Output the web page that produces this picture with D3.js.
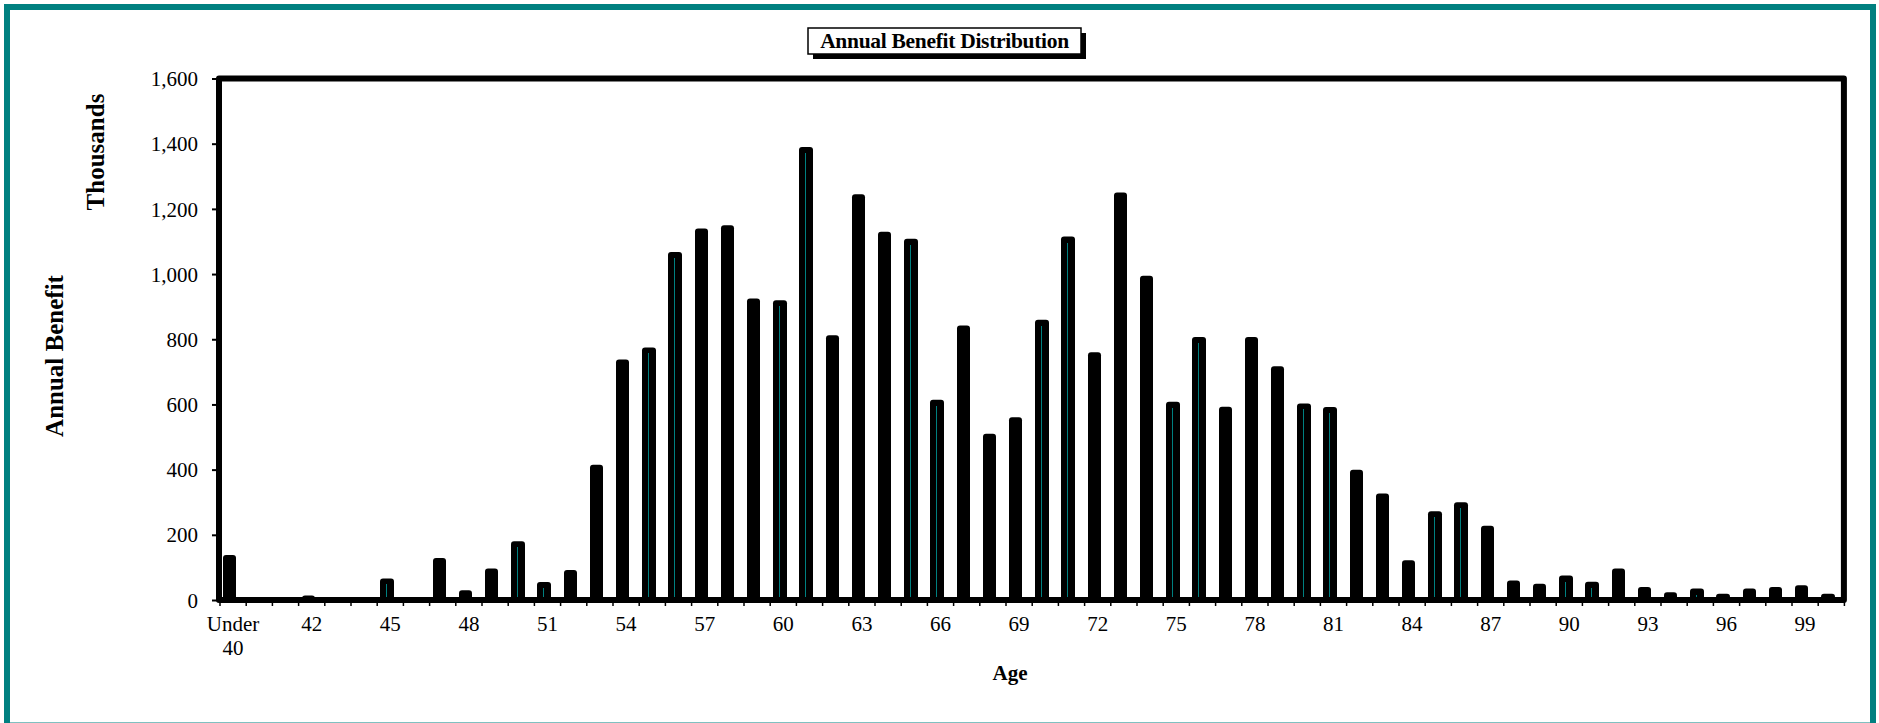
<!DOCTYPE html>
<html>
<head>
<meta charset="utf-8">
<script src="https://cdn.jsdelivr.net/npm/d3@7"></script>
<style>
  html, body { margin: 0; padding: 0; background: #ffffff; }
  svg { display: block; }
  text { font-family: "Liberation Serif", "Times New Roman", serif; fill: #000; }
</style>
</head>
<body>
<svg id="chart" width="1879" height="723"></svg>
<script>
// ---- data ----
const categories = ["Under 40","40","41","42","43","44","45","46","47","48","49","50","51","52","53","54",
  "55","56","57","58","59","60","61","62","63","64","65","66","67","68","69","70","71","72","73","74",
  "75","76","77","78","79","80","81","82","83","84","85","86","87","88","89","90","91","92","93","94",
  "95","96","97","98","99","100"];
const benefits = [138,0,0,14,0,0,66,0,129,30,97,180,55,92,415,738,
  775,1068,1140,1150,925,920,1390,812,1245,1130,1108,614,842,510,561,860,1115,760,1250,995,
  608,807,593,807,717,603,592,400,327,122,272,300,228,60,50,75,56,97,40,24,
  35,19,35,40,45,19];
const tickLabels = ["Under 40","42","45","48","51","54","57","60","63","66","69","72","75","78","81","84","87","90","93","96","99"];
const yTicks = [0,200,400,600,800,1000,1200,1400,1600];
const chartTitle = "Annual Benefit Distribution";
const xTitle = "Age";
const yTitleTop = "Thousands";
const yTitleBottom = "Annual Benefit";

// ---- layout ----
const svg = d3.select("#chart");
const plot = { left: 220, right: 1844.4, top: 78.5, bottom: 600 };
const teal = "#008080";

// outer teal frame
svg.append("rect")
  .attr("x", 7).attr("y", 7).attr("width", 1866).attr("height", 718.5)
  .attr("fill", "#fff").attr("stroke", teal).attr("stroke-width", 6);

const x = d3.scaleBand().domain(categories).range([plot.left, plot.right]).paddingInner(0).paddingOuter(0);
const y = d3.scaleLinear().domain([0, 1600]).range([plot.bottom, plot.top]);
const step = x.step();

// bars
const barW = 13.4;
const data = categories.map((c, i) => ({ c, v: benefits[i] }));
const g = svg.append("g");
data.filter(d => d.v > 0).forEach(d => {
  const cx = x(d.c) + step / 2 - 3.5;
  const x0 = Math.round(cx - barW / 2);
  const x1 = Math.round(cx + barW / 2);
  const w = x1 - x0;
  g.append("rect")
    .attr("x", x0).attr("y", y(d.v)).attr("width", w).attr("height", y(0) - y(d.v) + 2)
    .attr("rx", 3).attr("ry", 3).attr("fill", "#000");
  const inner = w - 13;
  if (inner > 0 && y(0) - y(d.v) > 8) {
    g.append("rect")
      .attr("x", x0 + 6).attr("y", y(d.v) + 6).attr("width", inner).attr("height", y(0) - y(d.v) - 6)
      .attr("fill", teal).attr("shape-rendering", "crispEdges");
  }
});

// plot frame
svg.append("rect")
  .attr("x", plot.left - 1).attr("y", plot.top).attr("width", plot.right - plot.left + 0.5).attr("height", plot.bottom - plot.top)
  .attr("fill", "none").attr("stroke", "#000").attr("stroke-width", 6).attr("stroke-linejoin", "round");

// y axis ticks and labels
const yAxis = d3.axisLeft(y).tickValues(yTicks).tickFormat(d3.format(",")).tickSize(5).tickPadding(14);
const ya = svg.append("g").attr("transform", `translate(${plot.left - 3},0)`).call(yAxis);
ya.select(".domain").remove();
ya.selectAll(".tick line").attr("stroke", "#000").attr("stroke-width", 2);
ya.selectAll(".tick text").attr("font-size", 21).attr("font-family", "Liberation Serif").attr("dy", "0.34em");

// x category boundary ticks
const bounds = categories.map(c => x(c)).concat([plot.right]);
svg.append("g").selectAll("line").data(bounds).join("line")
  .attr("x1", d => d).attr("x2", d => d)
  .attr("y1", plot.bottom + 2).attr("y2", plot.bottom + 6)
  .attr("stroke", "#000").attr("stroke-width", 1.5);

// x labels
const xAxis = d3.axisBottom(x).tickValues(tickLabels).tickSize(0).tickPadding(0);
const xa = svg.append("g").attr("transform", `translate(0,${plot.bottom})`).call(xAxis);
xa.select(".domain").remove();
xa.selectAll(".tick text").text(null)
  .attr("font-size", 21).attr("font-family", "Liberation Serif").attr("y", 31).attr("dy", 0)
  .each(function(d) {
    const t = d3.select(this);
    const parts = d.split(" ");
    parts.forEach((p, i) => {
      t.append("tspan").attr("x", 0).attr("dy", i === 0 ? 0 : 24).text(p);
    });
  });

// axis titles
svg.append("text").attr("x", 1010).attr("y", 680).attr("text-anchor", "middle")
  .attr("font-size", 21).attr("font-weight", "bold").text(xTitle);
svg.append("text").attr("transform", "translate(104,152) rotate(-90)").attr("text-anchor", "middle")
  .attr("font-size", 25).attr("font-weight", "bold").text(yTitleTop);
svg.append("text").attr("transform", "translate(63,356) rotate(-90)").attr("text-anchor", "middle")
  .attr("font-size", 25).attr("font-weight", "bold").text(yTitleBottom);

// title box with shadow
const tb = { x: 808, y: 28, w: 273, h: 26 };
svg.append("rect").attr("x", tb.x + 5).attr("y", tb.y + 5).attr("width", tb.w).attr("height", tb.h).attr("fill", "#000");
svg.append("rect").attr("x", tb.x).attr("y", tb.y).attr("width", tb.w).attr("height", tb.h)
  .attr("fill", "#fff").attr("stroke", "#000").attr("stroke-width", 1.5);
svg.append("text").attr("x", tb.x + tb.w / 2).attr("y", tb.y + 20).attr("text-anchor", "middle")
  .attr("font-size", 21.5).attr("font-weight", "bold").attr("letter-spacing", -0.3).text(chartTitle);
</script>
</body>
</html>
